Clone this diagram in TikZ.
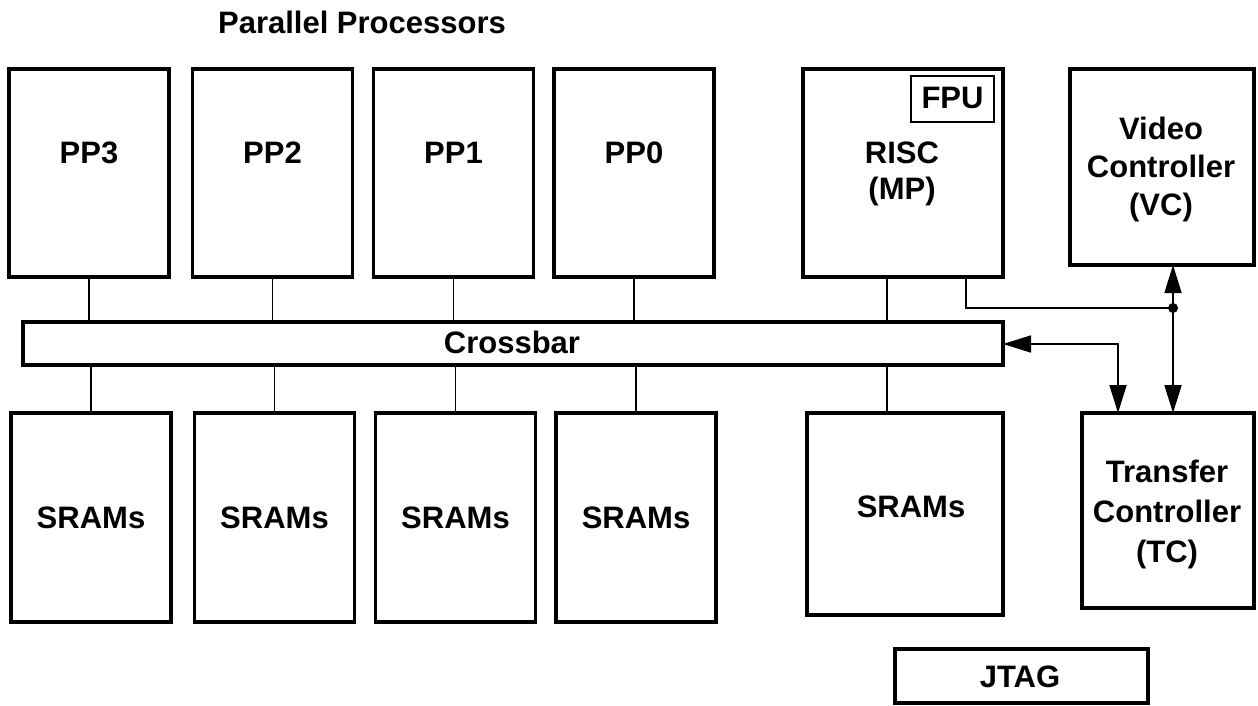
\documentclass[tikz,border=0pt]{standalone}
\usepackage{fontspec}
\setmainfont{Liberation Sans}
\usetikzlibrary{arrows.meta}
\begin{document}
\begin{tikzpicture}[x=1pt,y=-1pt,
  blk/.style={draw, line width=3.4pt, inner sep=0pt, outer sep=0pt},
  fpubox/.style={draw, line width=1.6pt, inner sep=0pt, outer sep=0pt},
  lbl/.style={font=\bfseries\fontsize{31}{38}\selectfont, inner sep=0pt, align=center},
  wire/.style={line width=1.7pt},
  tip/.tip={Triangle[length=28pt,width=17pt]},
]
\useasboundingbox (0,0) rectangle (1258,705);

% title
\node[lbl, anchor=base] (title) at (362,33) {Parallel Processors};

% parallel processors and their local memories
\foreach \n/\x in {3/89,2/272.5,1/453.5,0/634}{
  \node[blk, minimum width=160pt, minimum height=208pt] (pp\n) at (\x,173) {};
  \node[lbl, anchor=base] (pp\n t) at (\x,163) {PP\n};
  \node[blk, minimum width=160pt, minimum height=209pt] (sram\n) at (\x+2,517.5) {};
  \node[lbl, anchor=base] (sram\n t) at (\x+2,528) {SRAMs};
}

% crossbar
\node[blk, minimum width=980pt, minimum height=43pt] (xbar) at (513,343.5) {};
\node[lbl, anchor=base] (xbart) at (512,353) {Crossbar};

% master processor (base anchor of a multi-line label sits on its last line)
\node[blk, minimum width=200pt, minimum height=208pt] (risc) at (903,173) {};
\node[lbl, anchor=base, font=\bfseries\fontsize{31}{36}\selectfont] (risct) at (902,199) {RISC\\(MP)};
\node[fpubox, minimum width=83pt, minimum height=46pt] (fpu) at (952.5,99) {};
\node[lbl, anchor=base] (fput) at (952.5,108) {FPU};
\node[blk, minimum width=196pt, minimum height=202pt] (msram) at (905,514) {};
\node[lbl, anchor=base] (msramt) at (911,517) {SRAMs};

% controllers
\node[blk, minimum width=184pt, minimum height=196pt] (vc) at (1162,167) {};
\node[lbl, anchor=base] (vct) at (1161,215) {Video\\Controller\\(VC)};
\node[blk, minimum width=172pt, minimum height=195pt] (tc) at (1168,510.5) {};
\node[lbl, anchor=base, font=\bfseries\fontsize{31}{40}\selectfont] (tct) at (1167,562) {Transfer\\Controller\\(TC)};

% test port
\node[blk, minimum width=253pt, minimum height=54pt] (jtag) at (1021.5,676) {};
\node[lbl, anchor=base] (jtagt) at (1020,687) {JTAG};

% crossbar ports
\foreach \n in {3,2,1,0}{
  \draw[wire] (pp\n.south) -- (pp\n.south |- xbar.north);
  \draw[wire] (sram\n.north |- xbar.south) -- (sram\n.north);
}
\coordinate (mpbus) at (887,0);
\draw[wire] (risc.south -| mpbus) -- (xbar.north -| mpbus);
\draw[wire] (xbar.south -| mpbus) -- (msram.north -| mpbus);

% MP link to the controllers
\coordinate (mpstub) at (966,0);
\coordinate (tap) at (1173,308);
\draw[wire] (risc.south -| mpstub) |- (tap);
\draw[wire, tip-tip] (vc.south -| tap) -- (tc.north -| tap);
\fill (tap) circle (5pt);

% crossbar to transfer controller
\coordinate (tcbus) at (1118,344);
\draw[wire, tip-tip] (xbar.east |- tcbus) -- (tcbus) -- (tc.north -| tcbus);
\end{tikzpicture}
\end{document}
